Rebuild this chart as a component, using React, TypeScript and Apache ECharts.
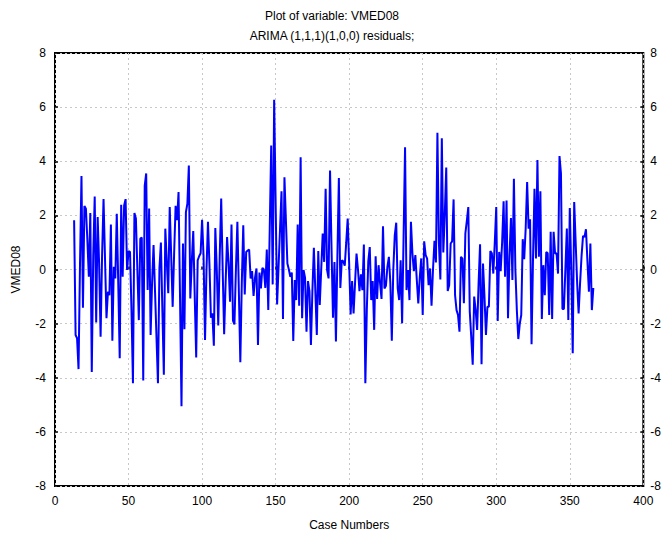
import React, { useEffect, useRef } from "react";
import * as echarts from "echarts";

const titleText = "Plot of variable: VMED08";
const subtitleText = "ARIMA (1,1,1)(1,0,0) residuals;";
const xName = "Case Numbers";
const yName = "VMED08";
const startCase = 13;
const residuals: number[] = [
  1.82, -2.42, -2.54, -3.68, 0.2, 3.45, -1.41, 2.35, 2.25, 1.1,
  -0.27, 2.09, -3.79, 0.5, 2.7, -1.96, 1.94, 0.2, -2.48, 0.5,
  2.6, 0.4, -1.8, -0.82, -0.95, 1.66, -2.63, 0.1, -0.33, 2.06,
  -0.5, -3.28, 2.39, -0.27, 2.37, 2.6, -0.02, 0.68, 0.65, -1.5,
  -4.2, 2.09, 1.88, 0, -1.87, 1.14, 1.18, -4.1, 3.1, 3.55,
  -0.76, 2.25, -2.42, -0.5, 0.9, -0.8, -2.5, -4.2, 0.04, 1.0,
  -1.5, -3.89, 1.51, 0.3, -0.88, 2.31, 0.5, -1.38, 0.6, 2.35,
  1.82, 2.86, -1.0, -5.05, 0.96, -2.21, 2.12, 2.43, 3.84, -1.07,
  0.3, 1.42, -1.0, -3.25, 0.34, 0.49, 0.6, 1.84, 0.5, -2.6,
  0.0, 1.76, 0.2, -1.78, -1.62, -2.82, 1.53, 0.0, -2.07, 0.5,
  2.62, 0.0, -2.39, -0.5, 1.2, 0.2, -1.19, 1.66, -1.89, -2.03,
  0.0, 1.76, -0.8, -3.43, -0.5, 1.63, -0.92, 0.65, 0.7, 0.74,
  -0.33, -0.06, -0.98, -0.3, 0.04, -2.79, -0.11, -0.7, 0.06, 0.0,
  -0.68, 0.74, -1.5, 1.5, 4.58, -0.55, 6.27, 2.5, -1.29, 0.1,
  1.5, 2.89, -1.83, 3.41, 1.8, 0.22, 0.0, -0.27, -0.11, -2.64,
  -0.39, -1.13, 1.66, -1.34, 4.15, -1.8, -0.02, -0.3, -2.3, -0.43,
  -0.8, -2.79, -0.8, 0.8, -0.8, -2.42, 0.68, -1.31, 0.0, 1.33,
  0.28, 2.98, -0.02, -0.33, 3.66, 0.8, -1.78, 0.28, -2.66, 0.5,
  3.38, -0.68, 0.34, 0.3, 0.14, 1.0, 1.88, 0.2, -1.66, -0.43,
  -1.62, -0.5, 0.59, 0.0, -0.8, -0.18, -0.76, 0.92, -4.2, -1.5,
  0.3, 0.83, -1.13, -0.43, -2.23, 0.49, -1.09, 0.16, -0.5, -1.09,
  1.6, -0.7, -0.6, 0.1, 0.47, -0.5, -2.63, 0.0, 1.26, 1.73,
  -0.7, -1.13, 0.34, -1.99, 1.2, 4.52, -0.76, -0.02, -1.13, 1.76,
  0.6, -0.06, 0.53, -0.4, -1.25, -0.3, 0.41, -1.68, 1.04, 0.53,
  0.4, -0.58, 0.04, -1.34, 0.0, 1.06, 0.26, 5.05, 1.0, -0.37,
  4.85, 0.63, 2.0, 3.77, -0.79, -0.58, 0.96, 1.04, 2.59, -0.95,
  -1.5, -1.68, -2.3, 0.47, 0.4, -1.25, 1.33, 1.8, 2.31, -1.56,
  -2.5, -3.52, -1.0, -1.5, -2.23, -0.5, 0.93, -3.5, 0.22, -1.0,
  -2.42, -1.38, -1.38, 0.68, 0.6, -0.15, 1.0, 2.31, -1.9, 0.65,
  -0.06, 1.0, 2.52, -0.27, 2.55, -1.8, 0.5, 1.9, -0.39, 3.35,
  0.0, -1.5, -2.57, -2.0, -1.68, 1.12, 0.38, 1.5, 3.23, 1.51,
  1.86, -2.76, 0.4, 2.98, 0.41, 4.05, 0.47, 2.89, -1.83, 0.16,
  -0.95, 0.65, 0.6, -1.68, 1.39, -1.83, 1.39, 0.59, 0.6, -0.15,
  4.19, 3.54, -1.46, -1.46, 0.0, 1.51, -1.87, 2.27, 0.0, -3.09,
  2.49, 1.0, -0.5, -1.62, -0.5, 0.5, 1.24, 1.2, 1.49, 0.3,
  -0.82, 0.96, -1.5, -0.68,
];
const xMin = 0;
const xMax = 400;
const xStep = 50;
const yMin = -8;
const yMax = 8;
const yStep = 2;

const FONT = "Liberation Sans, Arial, sans-serif";

export default function App() {
  const ref = useRef<HTMLDivElement>(null);
  useEffect(() => {
    if (!ref.current) return;
    const chart = echarts.init(ref.current, undefined, { renderer: "svg" });
    const data = residuals.map((v, i) => [startCase + i, v]);
    const gridLine = { show: true, lineStyle: { color: "#c8c8c8", type: [2, 3] as any, width: 1 } };
    const tick = { show: true, inside: true, length: 3, lineStyle: { color: "#000", width: 1.5 } };
    const yCommon = {
      type: "value" as const,
      min: yMin,
      max: yMax,
      interval: yStep,
      axisLine: { show: false },
      axisTick: tick,
    };
    chart.setOption({
      animation: false,
      backgroundColor: "#fff",
      title: {
        text: titleText,
        subtext: subtitleText,
        left: "center",
        top: 5,
        itemGap: 8,
        textStyle: { fontSize: 12, fontWeight: "normal", color: "#000", fontFamily: FONT },
        subtextStyle: { fontSize: 12, color: "#000", fontFamily: FONT },
      },
      grid: {
        left: 55,
        right: 18,
        top: 53,
        bottom: 48,
        show: true,
        borderColor: "#000",
        borderWidth: 2,
        backgroundColor: "transparent",
      },
      xAxis: {
        type: "value",
        min: xMin,
        max: xMax,
        interval: xStep,
        name: xName,
        nameLocation: "middle",
        nameGap: 33,
        nameTextStyle: { color: "#000", fontSize: 12, fontFamily: FONT },
        axisLine: { show: false },
        axisTick: tick,
        axisLabel: { color: "#000", fontSize: 12, fontFamily: FONT, margin: 9 },
        splitLine: gridLine,
      },
      yAxis: [
        {
          ...yCommon,
          position: "left",
          name: yName,
          nameLocation: "middle",
          nameGap: 33,
          nameTextStyle: { color: "#000", fontSize: 12, fontFamily: FONT },
          axisLabel: { color: "#000", fontSize: 12, fontFamily: FONT, margin: 9 },
          splitLine: gridLine,
        },
        {
          ...yCommon,
          position: "right",
          axisLabel: { color: "#000", fontSize: 12, fontFamily: FONT, margin: 7 },
          splitLine: { show: false },
        },
      ],
      series: [
        {
          type: "line",
          data,
          yAxisIndex: 0,
          showSymbol: false,
          symbol: "none",
          lineStyle: { color: "#0000ff", width: 2 },
          clip: true,
        },
      ],
    });
    return () => chart.dispose();
  }, []);
  return (
    <div
      ref={ref}
      style={{ position: "absolute", left: 0, top: 0, width: 664, height: 536 }}
    />
  );
}
